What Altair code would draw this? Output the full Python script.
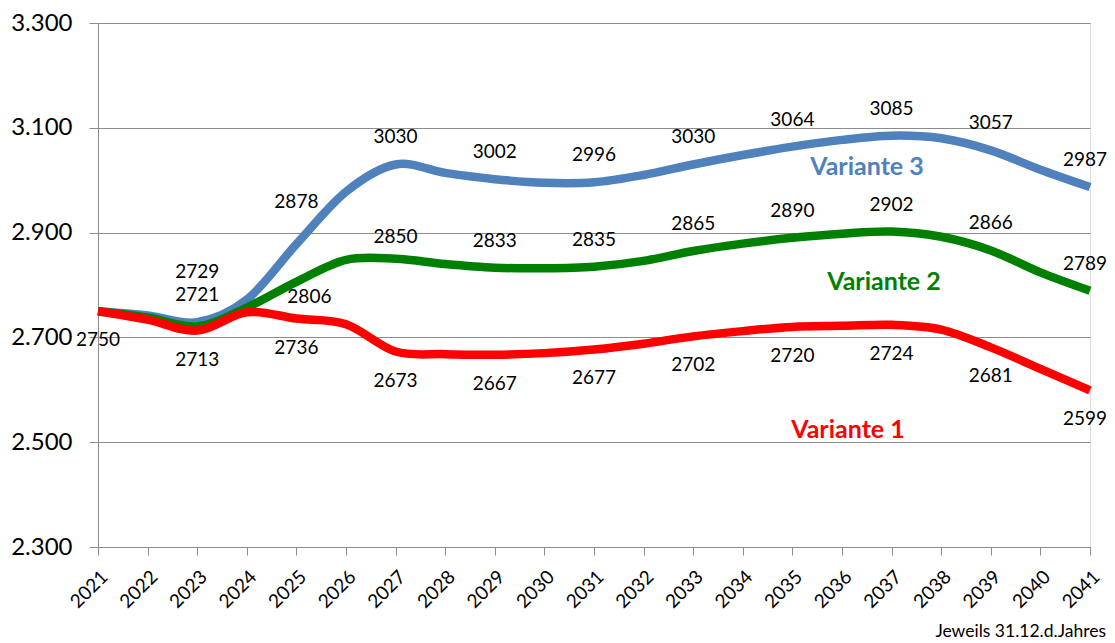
import altair as alt
import pandas as pd

years = list(range(2021, 2042))
variante1 = [2750, 2734, 2713, 2748, 2736, 2725, 2673, 2668, 2667, 2670, 2677,
             2688, 2702, 2712, 2720, 2722, 2724, 2715, 2681, 2640, 2599]
variante2 = [2750, 2738, 2721, 2757, 2806, 2848, 2850, 2840, 2833, 2832, 2835,
             2846, 2865, 2879, 2890, 2898, 2902, 2892, 2866, 2824, 2789]
variante3 = [2750, 2742, 2729, 2772, 2878, 2978, 3030, 3014, 3002, 2995, 2996,
             3010, 3030, 3048, 3064, 3077, 3085, 3080, 3057, 3020, 2987]
series_names = ["Variante 1", "Variante 2", "Variante 3"]
series_colors = ["#FF0000", "#008000", "#4F81BD"]
y_ticks = [2300, 2500, 2700, 2900, 3100, 3300]
note_text = "Jeweils 31.12.d.Jahres"

rows = []
for name, vals in zip(series_names, [variante1, variante2, variante3]):
    for yr, v in zip(years, vals):
        rows.append({"year": yr, "series": name, "value": v})
df = pd.DataFrame(rows)

FONT = "Lato"
GRID = "#8C8C8C"

x_enc = alt.X("year:Q",
              scale=alt.Scale(domain=[2021, 2041], nice=False, zero=False),
              axis=alt.Axis(values=years, format="d", title=None, grid=False,
                            labelAngle=-45, labelAlign="right", labelBaseline="top",
                            labelFontSize=19, labelFont=FONT, labelColor="#000000",
                            labelPadding=12, labelOverlap=False,
                            tickSize=8, tickColor=GRID, domainColor=GRID,
                            labelFlush=False))
y_enc = alt.Y("value:Q",
              scale=alt.Scale(domain=[2300, 3300], nice=False, zero=False),
              axis=alt.Axis(values=y_ticks, title=None, grid=True, gridColor=GRID,
                            gridOpacity=1, gridWidth=1.2,
                            labelExpr="replace(format(datum.value, ','), ',', '.')",
                            labelFontSize=24, labelFont=FONT, labelColor="#000000",
                            labelPadding=17, tickSize=9, tickColor=GRID,
                            domainColor=GRID))

base = alt.Chart(df)

lines = []
for name, col in [("Variante 3", "#4F81BD"), ("Variante 2", "#008000"), ("Variante 1", "#FF0000")]:
    lines.append(
        base.transform_filter(alt.datum.series == name)
        .mark_line(color=col, strokeWidth=8.5, interpolate="cardinal", tension=0)
        .encode(x=x_enc, y=y_enc)
    )

lab = base.transform_filter("datum.year % 2 == 1")
txt = dict(font=FONT, fontSize=19, color="#000000")
special = ("datum.year == 2021 || datum.year == 2041 || "
           "(datum.series == 'Variante 3' && (datum.year == 2023 || datum.year == 2025)) || "
           "(datum.series == 'Variante 2' && (datum.year == 2023 || datum.year == 2025 || datum.year == 2027))")

def text_layer(filter_expr, dx=0, dy=0):
    return (lab.transform_filter(filter_expr)
            .mark_text(dx=dx, dy=dy, **txt)
            .encode(x="year:Q", y="value:Q", text=alt.Text("value:Q", format="d")))

labels = [
    text_layer(f"datum.series != 'Variante 1' && !({special})", dy=-27),
    text_layer("datum.series == 'Variante 1' && datum.year != 2041", dy=29),
    text_layer("datum.series == 'Variante 1' && datum.year == 2041", dx=-5, dy=29),
    text_layer("datum.series != 'Variante 1' && datum.year == 2041", dx=-5, dy=-27),
    text_layer("datum.series == 'Variante 3' && datum.year == 2023", dy=-50),
    text_layer("datum.series == 'Variante 3' && datum.year == 2025", dy=-42),
    text_layer("datum.series == 'Variante 2' && datum.year == 2023", dy=-31),
    text_layer("datum.series == 'Variante 2' && datum.year == 2025", dx=13, dy=15),
    text_layer("datum.series == 'Variante 2' && datum.year == 2027", dy=-22),
]

name_df = pd.DataFrame({"name": series_names, "color": series_colors})

def name_layer(i, px, py):
    return (alt.Chart(name_df).transform_filter(alt.datum.name == series_names[i])
            .mark_text(font=FONT, fontSize=25, fontWeight="bold", color=series_colors[i])
            .encode(text="name:N", x=alt.value(px), y=alt.value(py)))

names = [
    name_layer(2, 769, 144),
    name_layer(1, 786, 259),
    name_layer(0, 750, 407),
]

note = (alt.Chart(pd.DataFrame({"t": [note_text]}))
        .mark_text(font=FONT, fontSize=17.5, color="#000000", align="right")
        .encode(text="t:N", x=alt.value(1008), y=alt.value(609)))

chart = alt.layer(*lines, *labels, *names, note).properties(
    width=992, height=524,
    autosize=alt.AutoSizeParams(type="none"),
    padding={"left": 90, "top": 15, "right": 17, "bottom": 96},
).configure_view(stroke=None).configure(background="white")

chart.save("out.html", embed_options={"renderer": "svg", "actions": False})
